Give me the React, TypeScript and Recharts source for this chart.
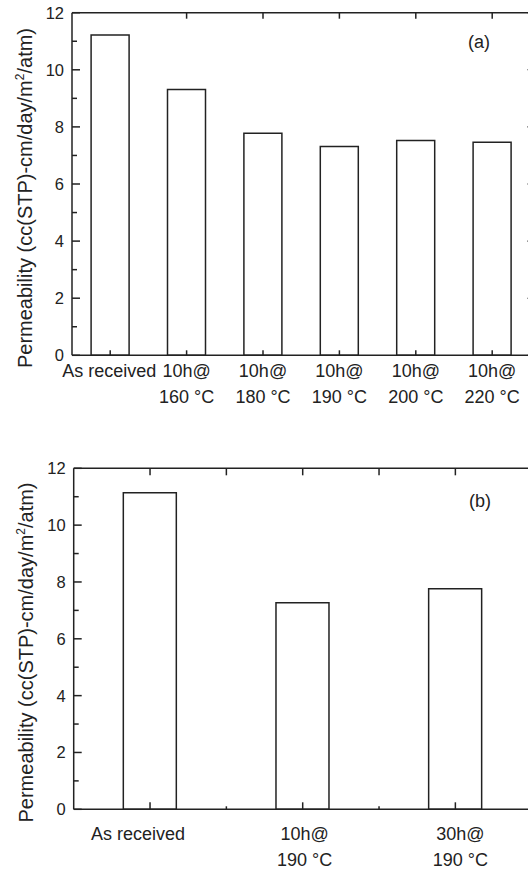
import React from "react";
import { BarChart, Bar, XAxis, YAxis } from "recharts";

// panel (a): heat treatment temperature series
const categoriesA = ["As received", "10h@\n160 °C", "10h@\n180 °C", "10h@\n190 °C", "10h@\n200 °C", "10h@\n220 °C"];
const permeabilityA = [11.22, 9.31, 7.78, 7.31, 7.52, 7.46];

// panel (b): annealing time at 190 °C
const categoriesB = ["As received", "10h@\n190 °C", "30h@\n190 °C"];
const permeabilityB = [11.14, 7.27, 7.76];

const yTicks = [0, 1, 2, 3, 4, 5, 6, 7, 8, 9, 10, 11, 12];
const yDomain = [0, 12];

const INK = "#222";
const FONT = "'Liberation Sans', Arial, Helvetica, sans-serif";

type Layout = {
  width: number;
  height: number;
  plotLeft: number;
  plotRight: number;
  plotTop: number;
  plotBottom: number;
  gap: string;
  panel: string;
  panelX: number;
  panelY: number;
  titleX: number;
  titleDY: number;
  line1: number;
  line2: number;
  labelShift: number[];
  bottomMajor: number;
  bottomMinor: number;
  topMajor: number;
  topMinor: number;
  topSkipFirst: boolean;
};

const layoutA: Layout = {
  width: 540,
  height: 420,
  plotLeft: 72,
  plotRight: 530.4,
  plotTop: 12.7,
  plotBottom: 355.3,
  gap: "25%",
  panel: "(a)",
  panelX: 479,
  panelY: 41.5,
  titleX: 32,
  titleDY: 14,
  line1: 21.7,
  line2: 47.7,
  labelShift: [-1, 0, 0, 0, 0, 0],
  bottomMajor: 5,
  bottomMinor: 0,
  topMajor: 6,
  topMinor: 0,
  topSkipFirst: true,
};

const layoutB: Layout = {
  width: 540,
  height: 451,
  plotLeft: 73.7,
  plotRight: 531.7,
  plotTop: 48.3,
  plotBottom: 389.3,
  gap: "32.5%",
  panel: "(b)",
  panelX: 480,
  panelY: 81,
  titleX: 33.3,
  titleDY: 13.7,
  line1: 30.7,
  line2: 56.7,
  labelShift: [-12, 2, 5],
  bottomMajor: 7,
  bottomMinor: 3,
  topMajor: 7,
  topMinor: 7,
  topSkipFirst: false,
};

const Panel = ({ categories, values, L }: { categories: string[]; values: number[]; L: Layout }) => {
  const data = categories.map((name, i) => ({ name, value: values[i] }));
  const band = (L.plotRight - L.plotLeft) / categories.length;
  const yAxisW = 40;
  const rightW = 5;
  const xAxisH = 60;
  const topH = 5;
  const margin = {
    left: L.plotLeft - yAxisW,
    right: L.width - L.plotRight - rightW,
    top: L.plotTop - topH,
    bottom: L.height - L.plotBottom - xAxisH,
  };

  const leftTick = (p: any) => {
    const x = Number(p.x);
    const y = Number(p.y);
    const v = p.payload.value;
    const major = v % 2 === 0;
    return (
      <g>
        <line x1={x} x2={x + (major ? 8 : 5)} y1={y} y2={y} stroke={INK} strokeWidth={1.5} />
        {major && (
          <text x={x - 8} y={y} dy="0.36em" textAnchor="end" fontSize={16.5} fontFamily={FONT} fill={INK}>
            {v}
          </text>
        )}
      </g>
    );
  };

  const rightTick = (p: any) => {
    const x = Number(p.x);
    const y = Number(p.y);
    const major = p.payload.value % 2 === 0;
    return <line x1={x} x2={x - (major ? 3 : 2)} y1={y} y2={y} stroke={INK} strokeWidth={1.1} />;
  };

  const bottomTick = (p: any) => {
    const x = Number(p.x);
    const y = Number(p.y);
    const index = Number(p.index);
    const lines = String(p.payload.value).split("\n");
    const cx = x + (L.labelShift[index] || 0);
    return (
      <g>
        <line x1={x} x2={x} y1={y} y2={y - L.bottomMajor} stroke={INK} strokeWidth={1.5} />
        {L.bottomMinor > 0 && index < categories.length - 1 && (
          <line x1={x + band / 2} x2={x + band / 2} y1={y} y2={y - L.bottomMinor} stroke={INK} strokeWidth={1.5} />
        )}
        {lines.map((t, i) => (
          <text
            key={i}
            x={cx}
            y={y + (i === 0 ? L.line1 : L.line2)}
            textAnchor="middle"
            fontSize={18}
            fontFamily={FONT}
            fill={INK}
          >
            {t}
          </text>
        ))}
      </g>
    );
  };

  const topTick = (p: any) => {
    const x = Number(p.x);
    const y = Number(p.y);
    const index = Number(p.index);
    return (
      <g>
        {!(L.topSkipFirst && index === 0) && (
          <line x1={x} x2={x} y1={y} y2={y + L.topMajor} stroke={INK} strokeWidth={1.5} />
        )}
        {L.topMinor > 0 && index < categories.length - 1 && (
          <line x1={x + band / 2} x2={x + band / 2} y1={y} y2={y + L.topMinor} stroke={INK} strokeWidth={1.5} />
        )}
      </g>
    );
  };

  const titleLabel = (p: any) => {
    const vb = p.viewBox || {};
    const cx = L.titleX;
    const cy = Number(vb.y ?? L.plotTop) + Number(vb.height ?? L.plotBottom - L.plotTop) / 2 + L.titleDY;
    return (
      <text
        x={cx}
        y={cy}
        transform={`rotate(-90 ${cx} ${cy})`}
        textAnchor="middle"
        fontSize={20}
        fontFamily={FONT}
        fill={INK}
      >
        Permeability (cc(STP)-cm/day/m
        <tspan dy={-8} fontSize={12}>
          2
        </tspan>
        <tspan dy={8}>/atm)</tspan>
      </text>
    );
  };

  const panelLabel = () => (
    <text x={L.panelX} y={L.panelY} dy="0.36em" textAnchor="middle" fontSize={18} fontFamily={FONT} fill={INK}>
      {L.panel}
    </text>
  );

  const axisLine = { stroke: INK, strokeWidth: 1.5 };

  return (
    <BarChart width={L.width} height={L.height} data={data} margin={margin} barCategoryGap={L.gap}>
      <XAxis
        xAxisId="bottom"
        dataKey="name"
        orientation="bottom"
        height={xAxisH}
        axisLine={axisLine}
        tickLine={false}
        tickSize={0}
        tickMargin={0}
        interval={0}
        tick={bottomTick}
      />
      <XAxis
        xAxisId="top"
        dataKey="name"
        orientation="top"
        height={topH}
        axisLine={axisLine}
        tickLine={false}
        tickSize={0}
        tickMargin={0}
        interval={0}
        tick={topTick}
        label={{ content: panelLabel }}
      />
      <YAxis
        yAxisId="left"
        orientation="left"
        type="number"
        domain={yDomain}
        ticks={yTicks}
        interval={0}
        width={yAxisW}
        axisLine={axisLine}
        tickLine={false}
        tickSize={0}
        tickMargin={0}
        tick={leftTick}
        allowDataOverflow
        label={{ content: titleLabel }}
      />
      <YAxis
        yAxisId="right"
        orientation="right"
        type="number"
        domain={yDomain}
        ticks={yTicks}
        interval={0}
        width={rightW}
        axisLine={axisLine}
        tickLine={false}
        tickSize={0}
        tickMargin={0}
        tick={rightTick}
        allowDataOverflow
      />
      <Bar
        xAxisId="bottom"
        yAxisId="left"
        dataKey="value"
        fill="#fff"
        stroke={INK}
        strokeWidth={1.5}
        isAnimationActive={false}
      />
    </BarChart>
  );
};

export default function App() {
  return (
    <div style={{ width: 528, height: 871, overflow: "hidden", background: "#fff" }}>
      <style>{"html,body{margin:0;padding:0;overflow:hidden;background:#fff}"}</style>
      <Panel categories={categoriesA} values={permeabilityA} L={layoutA} />
      <Panel categories={categoriesB} values={permeabilityB} L={layoutB} />
    </div>
  );
}
